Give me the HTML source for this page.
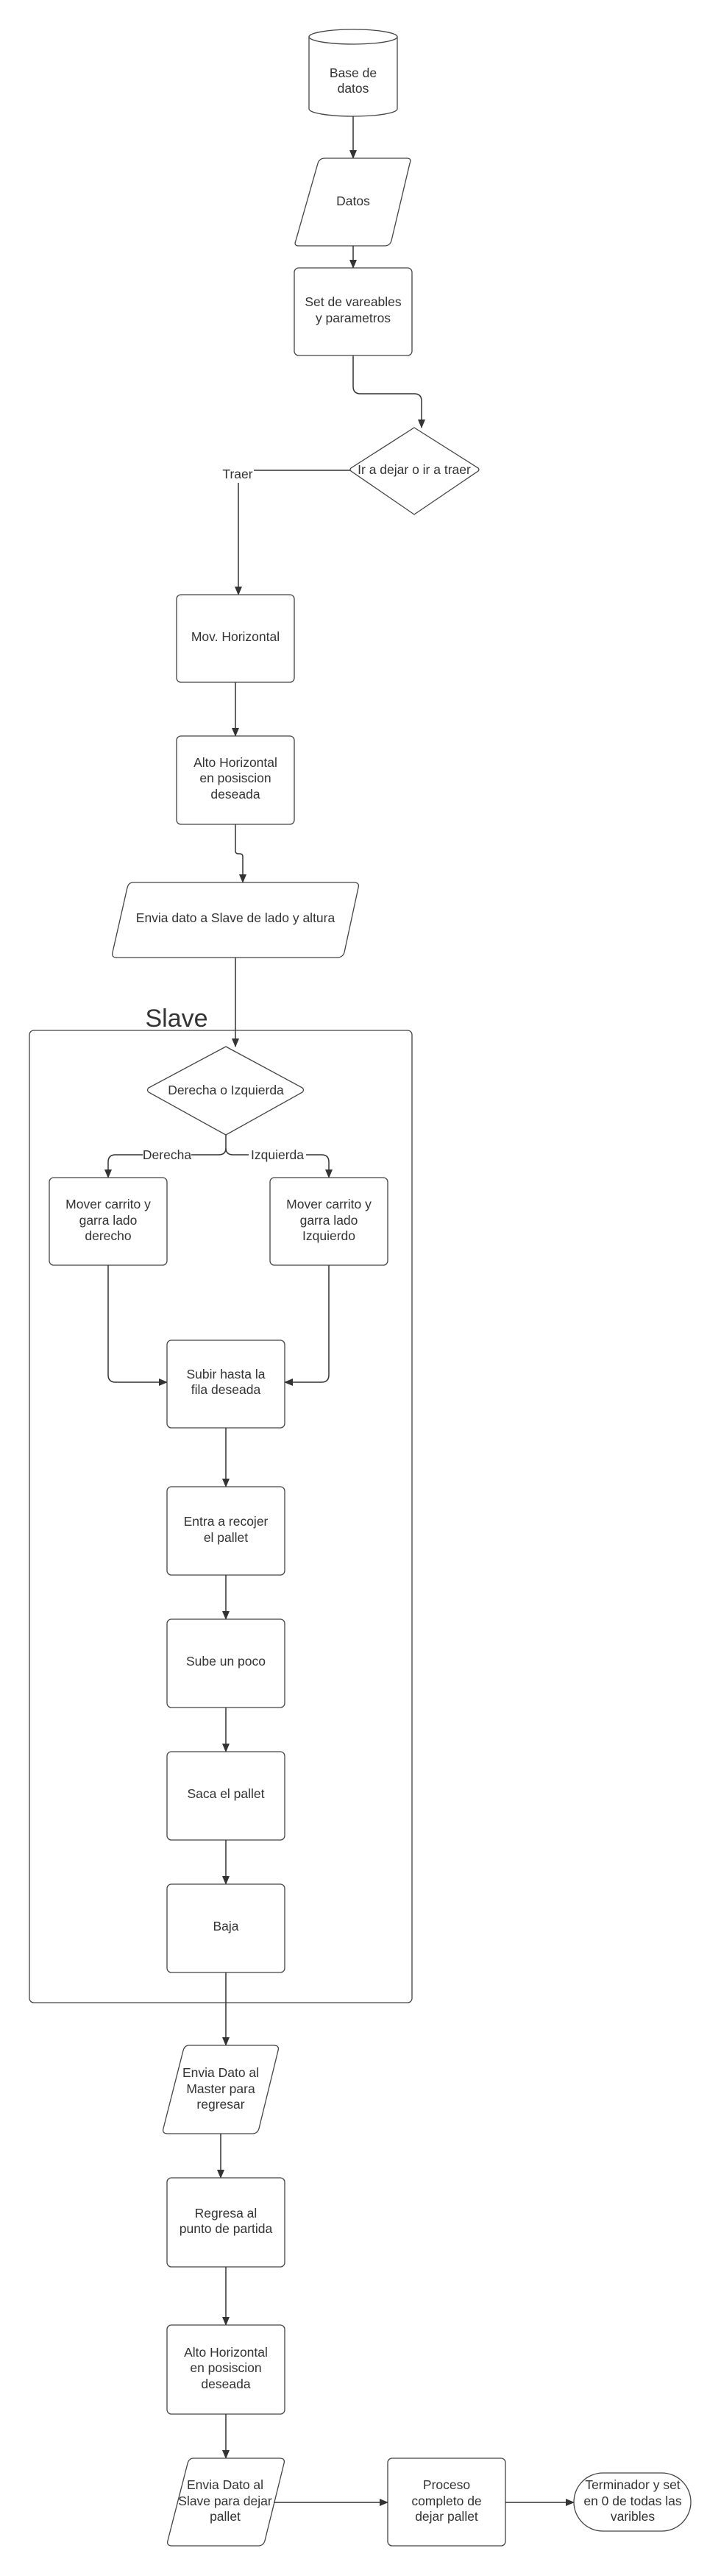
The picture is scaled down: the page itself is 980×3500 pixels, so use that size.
<!DOCTYPE html>
<html><head><meta charset="utf-8"><style>
html,body{margin:0;padding:0;background:#fff;}
svg{display:block;}
text{font-family:"Liberation Sans",sans-serif;font-size:17.5px;fill:#333;text-anchor:middle;}
.s{fill:#fff;stroke:#444;stroke-width:1.3;}
.l{fill:none;stroke:#333;stroke-width:1.5;}
</style></head><body>
<svg width="980" height="3500" viewBox="0 0 980 3500" xmlns="http://www.w3.org/2000/svg">
<defs><marker id="a" markerWidth="12" markerHeight="10" refX="11" refY="5" orient="auto" markerUnits="userSpaceOnUse"><path d="M0,0 L12,5 L0,10 z" fill="#333"/></marker></defs>

<path class="s" d="M420,50 L420,148 A60,10 0 0 0 540,148 L540,50"/>
<ellipse class="s" cx="480" cy="50" rx="60" ry="10"/>
<text x="480" y="105">Base de</text><text x="480" y="126">datos</text>
<path class="l" d="M480,158 L480,215" marker-end="url(#a)"/>

<path class="s" d="M442,215 L553,215 Q560,215 557,222 L532,327 Q530,334 523,334 L406,334 Q399,334 402,327 L432,222 Q434,215 442,215 z"/>
<text x="480" y="279">Datos</text>
<path class="l" d="M480,334 L480,364" marker-end="url(#a)"/>

<rect class="s" x="400" y="364" width="160" height="119" rx="6"/>
<text x="480" y="416">Set de vareables</text><text x="480" y="438">y parametros</text>
<path class="l" d="M480,483 L480,525 Q480,535 490,535 L563,535 Q573,535 573,545 L573,581" marker-end="url(#a)"/>

<path class="s" d="M563,581 L650,636 Q652,638 650,640 L563,699 L477,640 Q475,638 477,636 z"/>
<text x="563" y="644">Ir a dejar o ir a traer</text>
<path class="l" d="M476,639 L345,639"/>
<text x="323" y="650">Traer</text>
<path class="l" d="M324,656 L324,808" marker-end="url(#a)"/>

<rect class="s" x="240" y="808" width="160" height="119" rx="6"/>
<text x="320" y="871">Mov. Horizontal</text>
<path class="l" d="M320,927 L320,1000" marker-end="url(#a)"/>

<rect class="s" x="240" y="1000" width="160" height="120" rx="6"/>
<text x="320" y="1042">Alto Horizontal</text><text x="320" y="1063">en posiscion</text><text x="320" y="1085">deseada</text>
<path class="l" d="M320,1120 L320,1156 Q320,1160 324,1160 L326,1160 Q330,1160 330,1164 L330,1199" marker-end="url(#a)"/>

<path class="s" d="M181,1199 L481,1199 Q489,1199 487,1206 L468,1294 Q466,1301 458,1301 L159,1301 Q151,1301 153,1294 L173,1206 Q175,1199 181,1199 z"/>
<text x="320" y="1253">Envia dato a Slave de lado y altura</text>

<rect class="s" x="40" y="1400" width="520" height="1321" rx="6" fill="none"/>
<path class="l" d="M320,1301 L320,1422" marker-end="url(#a)"/>
<text x="240" y="1395" style="font-size:34px">Slave</text>

<path class="s" d="M307,1422 L411,1478 Q414,1481 411,1484 L307,1542 L202,1484 Q199,1481 202,1478 z"/>
<text x="307" y="1487">Derecha o Izquierda</text>
<path class="l" d="M307,1542 L307,1560 Q307,1569 297,1569 L157,1569 Q147,1569 147,1579 L147,1600" marker-end="url(#a)"/>
<path class="l" d="M307,1560 Q307,1569 317,1569 L437,1569 Q447,1569 447,1579 L447,1600" marker-end="url(#a)"/>
<rect x="194" y="1560" width="66" height="18" fill="#fff"/>
<text x="227" y="1575">Derecha</text>
<rect x="338" y="1560" width="78" height="18" fill="#fff"/>
<text x="377" y="1575">Izquierda</text>

<rect class="s" x="67" y="1600" width="160" height="119" rx="6"/>
<text x="147" y="1642">Mover carrito y</text><text x="147" y="1664">garra lado</text><text x="147" y="1685">derecho</text>
<rect class="s" x="367" y="1600" width="160" height="119" rx="6"/>
<text x="447" y="1642">Mover carrito y</text><text x="447" y="1664">garra lado</text><text x="447" y="1685">Izquierdo</text>

<path class="l" d="M147,1719 L147,1868 Q147,1878 157,1878 L227,1878" marker-end="url(#a)"/>
<path class="l" d="M447,1719 L447,1868 Q447,1878 437,1878 L387,1878" marker-end="url(#a)"/>

<rect class="s" x="227" y="1821" width="160" height="119" rx="6"/>
<text x="307" y="1873">Subir hasta la</text><text x="307" y="1894">fila deseada</text>
<path class="l" d="M307,1940 L307,2020" marker-end="url(#a)"/>
<rect class="s" x="227" y="2020" width="160" height="120" rx="6"/>
<text x="307" y="2073">Entra a recojer</text><text x="307" y="2095">el pallet</text>
<path class="l" d="M307,2140 L307,2200" marker-end="url(#a)"/>
<rect class="s" x="227" y="2200" width="160" height="120" rx="6"/>
<text x="307" y="2263">Sube un poco</text>
<path class="l" d="M307,2320 L307,2380" marker-end="url(#a)"/>
<rect class="s" x="227" y="2380" width="160" height="120" rx="6"/>
<text x="307" y="2443">Saca el pallet</text>
<path class="l" d="M307,2500 L307,2560" marker-end="url(#a)"/>
<rect class="s" x="227" y="2560" width="160" height="120" rx="6"/>
<text x="307" y="2623">Baja</text>
<path class="l" d="M307,2680 L307,2779" marker-end="url(#a)"/>

<path class="s" d="M257,2779 L372,2779 Q380,2779 378,2786 L352,2892 Q350,2899 343,2899 L228,2899 Q220,2899 222,2892 L249,2786 Q251,2779 257,2779 z"/>
<text x="300" y="2822">Envia Dato al</text><text x="300" y="2844">Master para</text><text x="300" y="2865">regresar</text>
<path class="l" d="M300,2899 L300,2959" marker-end="url(#a)"/>

<rect class="s" x="227" y="2959" width="160" height="121" rx="6"/>
<text x="307" y="3013">Regresa al</text><text x="307" y="3034">punto de partida</text>
<path class="l" d="M307,3080 L307,3159" marker-end="url(#a)"/>
<rect class="s" x="227" y="3159" width="160" height="121" rx="6"/>
<text x="307" y="3202">Alto Horizontal</text><text x="307" y="3223">en posiscion</text><text x="307" y="3245">deseada</text>
<path class="l" d="M307,3280 L307,3340" marker-end="url(#a)"/>

<path class="s" d="M263,3340 L380,3340 Q388,3340 386,3347 L360,3452 Q358,3459 351,3459 L234,3459 Q226,3459 228,3452 L255,3347 Q257,3340 263,3340 z"/>
<text x="306" y="3382">Envia Dato al</text><text x="306" y="3404">Slave para dejar</text><text x="306" y="3425">pallet</text>
<path class="l" d="M372,3400 L527,3400" marker-end="url(#a)"/>

<rect class="s" x="527" y="3340" width="160" height="119" rx="6"/>
<text x="607" y="3382">Proceso</text><text x="607" y="3404">completo de</text><text x="607" y="3425">dejar pallet</text>
<path class="l" d="M687,3400 L780,3400" marker-end="url(#a)"/>

<rect class="s" x="780" y="3360" width="159" height="79" rx="39.5"/>
<text x="860" y="3382">Terminador y set</text><text x="860" y="3404">en 0 de todas las</text><text x="860" y="3425">varibles</text>
</svg>
</body></html>
